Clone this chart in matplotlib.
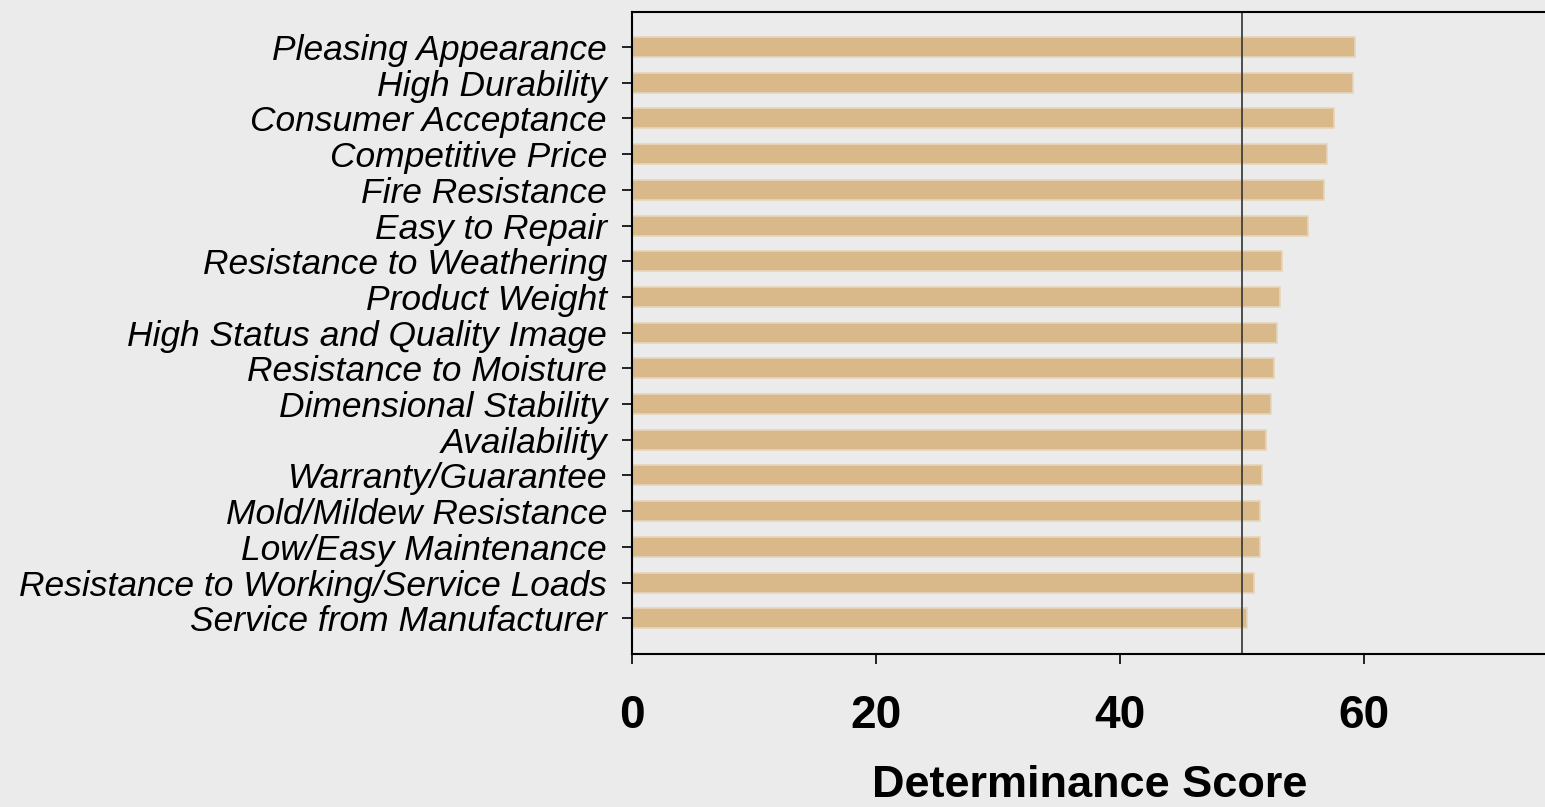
import matplotlib
matplotlib.use("Agg")
import matplotlib.pyplot as plt

categories = [
    "Pleasing Appearance", "High Durability", "Consumer Acceptance",
    "Competitive Price", "Fire Resistance", "Easy to Repair",
    "Resistance to Weathering", "Product Weight", "High Status and Quality Image",
    "Resistance to Moisture", "Dimensional Stability", "Availability",
    "Warranty/Guarantee", "Mold/Mildew Resistance", "Low/Easy Maintenance",
    "Resistance to Working/Service Loads", "Service from Manufacturer",
]
scores = [59.3, 59.1, 57.5, 57.0, 56.7, 55.4, 53.3, 53.1, 52.9, 52.6,
          52.4, 52.0, 51.6, 51.5, 51.5, 51.0, 50.4]
xticks = [0, 20, 40, 60]
ref_line = 50

bg = "#EBEBEB"
fig = plt.figure(figsize=(15.45, 8.07), dpi=100, facecolor=bg)
ax = fig.add_axes([632/1545, 1-654/807, 915/1545, (654-12)/807])
ax.set_facecolor(bg)

ypos = list(range(len(categories)))
ax.barh(ypos, scores, height=0.56, color="#D9B98A", edgecolor="#E6D5BC", linewidth=1.2)
ax.axvline(ref_line, color="#333333", linewidth=1.2)

ax.set_ylim(len(categories) - 0.0, -0.98)
ax.set_xlim(0, 75)
ax.set_yticks(ypos)
ax.set_yticklabels(categories, fontsize=25.5, fontstyle="italic", family="Liberation Sans")
ax.set_xticks(xticks)
ax.set_xticklabels([str(t) for t in xticks], fontsize=33, fontweight="bold", family="Liberation Sans")
ax.set_xlabel("Determinance Score", fontsize=32.5, fontweight="bold", family="Liberation Sans", labelpad=19)

for s in ["left", "bottom", "top"]:
    ax.spines[s].set_linewidth(1.5)
ax.spines["right"].set_visible(False)
ax.tick_params(axis="both", direction="out", length=7, width=1.2)
ax.tick_params(axis="x", pad=22)
ax.tick_params(axis="y", pad=11)

fig.savefig("out.png", dpi=100, facecolor=bg)
